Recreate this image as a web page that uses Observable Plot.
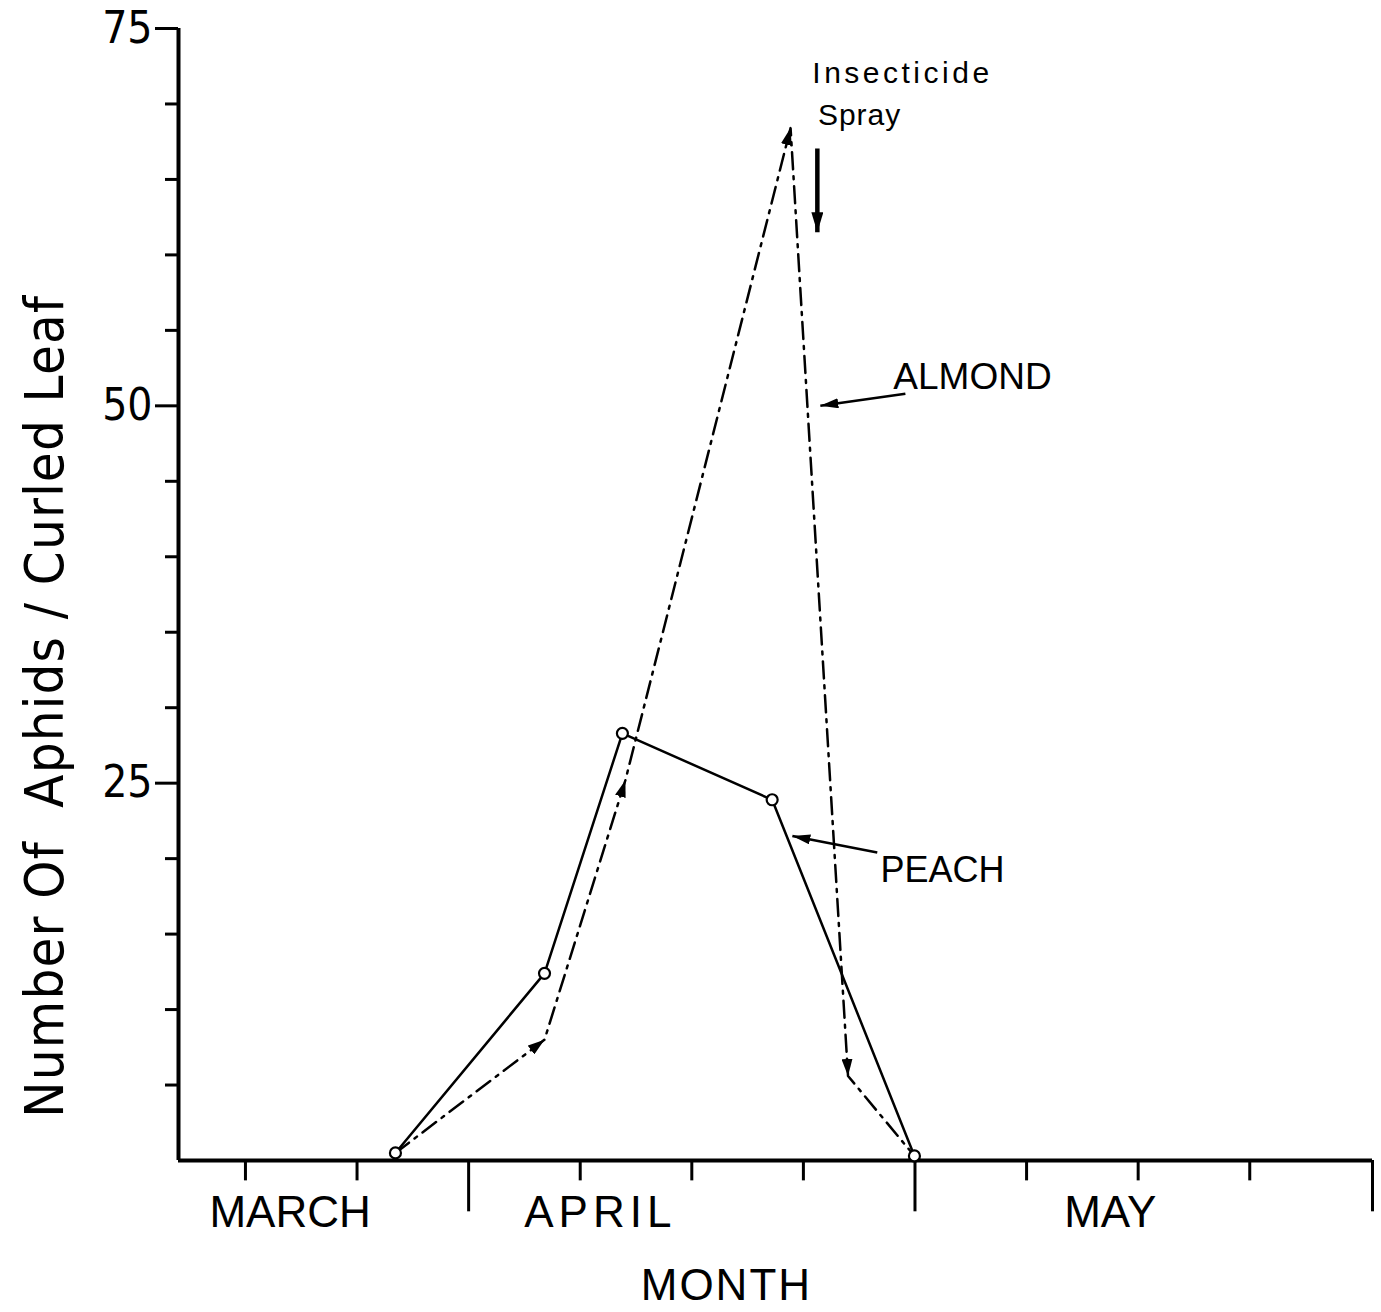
<!DOCTYPE html>
<html><head><meta charset="utf-8">
<script src="https://cdn.jsdelivr.net/npm/d3@7"></script>
<script src="https://cdn.jsdelivr.net/npm/@observablehq/plot@0.6"></script>
<style>html,body{margin:0;padding:0;background:#fff}</style>
</head><body><div id="chart"></div>
<script>
// ---- data (weeks relative to 1 April; aphids per curled leaf) ----
const peachWeek   = [-0.656, 0.68, 1.378, 2.72, 3.995];
const peachCount  = [0.5, 12.4, 28.3, 23.9, 0.3];
const almondWeek  = [-0.656, 0.68, 1.405, 2.885, 3.40, 3.995];
const almondCount = [0.5, 8.0, 25.2, 68.4, 5.6, 0.3];

// ---- axis ticks & labels ----
const yMajorTicks = [25, 50, 75];
const yMinorTicks = [5, 10, 15, 20, 30, 35, 40, 45, 55, 60, 65, 70];
const xWeekTicks  = [-2, -1, 1, 2, 3, 5, 6, 7];
const xMonthBounds = [0, 4, 8.1];
const monthNames = ["MARCH", "APRIL", "MAY"];
const monthLabelWeek = [-1.6, 1.18, 5.75];
const monthLabelY = -3.5;
const xTitle = "MONTH", xTitlePos = [2.31, -8.3];
const yTitle = "Number Of  Aphids / Curled Leaf", yTitlePos = [-3.79, 30.1];

// ---- annotations ----
const noteTexts = ["Insecticide", "Spray", "ALMOND", "PEACH"];
const noteX = [3.08, 3.13, 3.806, 3.69];
const noteY = [72.0, 69.24, 51.9, 19.2];
const noteSize = [30, 30, 37, 36];
const pointerFrom = [[3.914, 50.8], [3.662, 20.4]];
const pointerTo   = [[3.152, 50.0], [2.901, 21.5]];
const sprayArrow = {x: 3.125, y1: 67.05, y2: 61.5};

// letter spacing (px) of the hand-lettered labels
const letterSpacingByText = {"Insecticide": 3.5, "Spray": 1, "APRIL": 5, "MONTH": 2, [yTitle]: 1.2};

const FONT = "'Liberation Sans', Arial, sans-serif";
const NARROW = "'Liberation Sans Narrow', 'DejaVu Sans Condensed', 'Liberation Sans', sans-serif";
const SVGNS = "http://www.w3.org/2000/svg";

function filledHead(len, half) {
  return (color, context) => {
    const doc = (context && context.document) || document;
    const m = doc.createElementNS(SVGNS, "marker");
    m.setAttribute("viewBox", `${-len} ${-half} ${len} ${2 * half}`);
    m.setAttribute("markerUnits", "userSpaceOnUse");
    m.setAttribute("markerWidth", len);
    m.setAttribute("markerHeight", 2 * half);
    m.setAttribute("refX", 0);
    m.setAttribute("refY", 0);
    m.setAttribute("orient", "auto");
    const p = doc.createElementNS(SVGNS, "path");
    p.setAttribute("d", `M0,0L${-len},${-half}L${-len},${half}Z`);
    p.setAttribute("fill", color === "currentColor" ? "black" : color);
    p.setAttribute("fill-opacity", 1);
    p.setAttribute("stroke", "none");
    m.appendChild(p);
    return m;
  };
}

const peach = peachWeek.map((w, i) => ({week: w, count: peachCount[i]}));
const almond = almondWeek.map((w, i) => ({week: w, count: almondCount[i]}));
const almondHeads = almond.slice(0, -2).map((d, i) => ({x1: d.week, y1: d.count, x2: almond[i + 1].week, y2: almond[i + 1].count}));
const notes = noteTexts.map((t, i) => ({t, x: noteX[i], y: noteY[i], s: noteSize[i]}));
const pointers = pointerFrom.map((f, i) => ({x1: f[0], y1: f[1], x2: pointerTo[i][0], y2: pointerTo[i][1]}));
const months = monthNames.map((m, i) => ({m, x: monthLabelWeek[i], y: monthLabelY}));

const plot = Plot.plot({
  width: 1381,
  height: 1312,
  marginLeft: 178,
  marginRight: 9,
  marginTop: 28,
  marginBottom: 152,
  x: {domain: [-2.6, 8.1], axis: null},
  y: {domain: [0, 75]},
  style: {fontFamily: FONT, background: "white", color: "black", overflow: "visible"},
  marks: [
    // y axis
    Plot.axisY(yMinorTicks, {tickSize: 13, tickFormat: () => "", strokeWidth: 3, label: null}),
    Plot.axisY(yMajorTicks, {tickSize: 23, tickPadding: 3, strokeWidth: 3, fontSize: 44, fontFamily: NARROW, label: null}),
    Plot.ruleX([-2.6], {strokeWidth: 4}),
    // x axis
    Plot.ruleY([0], {strokeWidth: 4}),
    Plot.ruleX(xWeekTicks, {x: d => d, y1: 0, y2: -1.35, strokeWidth: 3}),
    Plot.ruleX(xMonthBounds, {x: d => d, y1: 0, y2: -3.4, strokeWidth: 3}),
    Plot.text(months, {x: "x", y: "y", text: "m", fontSize: 44}),
    Plot.text([xTitle], {x: () => xTitlePos[0], y: () => xTitlePos[1], text: d => d, fontSize: 44}),
    Plot.text([yTitle], {x: () => yTitlePos[0], y: () => yTitlePos[1], text: d => d, rotate: -90, fontSize: 54, fontFamily: NARROW}),
    // almond (dash-dot with arrowheads)
    Plot.line(almond, {x: "week", y: "count", stroke: "black", strokeWidth: 2.5, strokeDasharray: "17,7,3,7"}),
    Plot.link(almondHeads, {x1: "x1", y1: "y1", x2: "x2", y2: "y2", stroke: "black", strokeOpacity: 0, markerEnd: filledHead(17, 5.5)}),
    // peach (solid with open circles)
    Plot.line(peach, {x: "week", y: "count", stroke: "black", strokeWidth: 2.5}),
    Plot.dot(peach, {x: "week", y: "count", r: 5.5, fill: "white", stroke: "black", strokeWidth: 2.2}),
    // annotations
    Plot.text(notes, {x: "x", y: "y", text: "t", fontSize: d => d.s, textAnchor: "start"}),
    Plot.link(pointers, {x1: "x1", y1: "y1", x2: "x2", y2: "y2", stroke: "black", strokeWidth: 2.5, markerEnd: filledHead(18, 5)}),
    Plot.link([sprayArrow], {x1: "x", x2: "x", y1: "y1", y2: "y2", stroke: "black", strokeWidth: 4.5, markerEnd: filledHead(20, 6)})
  ]
});
d3.select(plot).selectAll("text").each(function () {
  const s = letterSpacingByText[this.textContent];
  if (s) this.style.letterSpacing = s + "px";
});
document.getElementById("chart").appendChild(plot);
</script>
</body></html>
